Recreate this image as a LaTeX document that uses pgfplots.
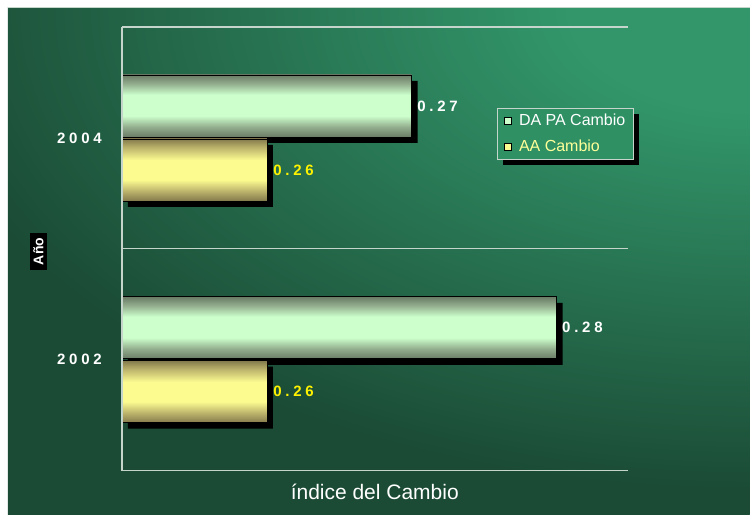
\documentclass[border=0pt]{standalone}
\usepackage{fontspec}
\setmainfont{Liberation Sans}
\newfontfamily\spacedsans[LetterSpace=25]{Liberation Sans}
\usepackage{pgfplots}
\pgfplotsset{compat=1.18}
\usetikzlibrary{shadows}
\definecolor{bgdark}{HTML}{1B4B35}
\definecolor{bglight}{HTML}{32966A}
\definecolor{gridcol}{HTML}{C5D5CB}
\definecolor{gdark}{HTML}{6A7B66}
\definecolor{gmid}{HTML}{92AD8D}
\definecolor{glight}{HTML}{CCFFCC}
\definecolor{ydark}{HTML}{837A4C}
\definecolor{ymid}{HTML}{BDB46C}
\definecolor{ylight}{HTML}{FBFB90}
\definecolor{ytext}{HTML}{FFFF99}
\definecolor{legfill}{HTML}{2F9064}
% a path maps onto the middle 50bp (25bp..75bp) of a shading
\pgfdeclareverticalshading{gbar}{100bp}{color(0bp)=(gdark); color(25bp)=(gdark); color(33bp)=(gmid); color(42bp)=(glight); color(59bp)=(glight); color(68bp)=(gmid); color(75bp)=(gdark); color(100bp)=(gdark)}
\pgfdeclareverticalshading{yelbar}{100bp}{color(0bp)=(ydark); color(25bp)=(ydark); color(33bp)=(ymid); color(42bp)=(ylight); color(58bp)=(ylight); color(68bp)=(ymid); color(75bp)=(ydark); color(100bp)=(ydark)}
\pgfdeclareradialshading{bgshade}{\pgfpoint{0bp}{0bp}}{color(0bp)=(bglight); color(3bp)=(bglight); color(14bp)=(bgdark); color(50bp)=(bgdark)}
\newcommand{\valfont}{\spacedsans\bfseries\fontsize{15bp}{18bp}\selectfont}
\newcommand{\legmark}[1]{\pgfpathrectangle{\pgfpoint{0bp}{-6bp}}{\pgfpoint{14bp}{12bp}}\pgfusepath{use as bounding box}%
  \pgfsetfillcolor{#1}\pgfsetstrokecolor{black}\pgfsetlinewidth{1.5bp}%
  \pgfpathrectangle{\pgfpoint{1.5bp}{-3.5bp}}{\pgfpoint{7bp}{7bp}}\pgfusepath{fill,stroke}}
\begin{document}
\begin{tikzpicture}[x=1bp,y=1bp]
\fill[white] (0,0) rectangle (750,515);
\begin{scope}
\clip (8,0) rectangle (750,507);
\fill[bgdark] (8,0) rectangle (750,507);
\shade[shading=bgshade] (750,507) ellipse [x radius=1500, y radius=860];
\end{scope}
\draw[gridcol, line width=1bp] (8,507.5) -- (750,507.5);
\begin{axis}[
  at={(122bp,44bp)}, anchor=south west, scale only axis,
  width=506bp, height=444bp,
  xbar, bar width=62bp,
  xmin=0.25, xmax=0.2849, ymin=-0.5, ymax=1.5,
  xtick=\empty, ytick={0,1}, yticklabels={2002,2004},
  yticklabel style={font=\valfont, text=white, inner sep=0pt, xshift=-20bp},
  major tick length=0pt,
  axis line style={draw=none},
  extra y ticks={-0.5,0.5,1.5}, extra y tick labels={},
  extra y tick style={grid=major, major grid style={draw=gridcol, line width=1.2bp}},
  xlabel={índice del Cambio},
  xlabel style={at={(rel axis cs:0.5,-0.047)}, anchor=center, font=\fontsize{21bp}{25bp}\selectfont, text=white},
  ylabel={Año},
  ylabel style={at={(rel axis cs:-0.165,0.494)}, anchor=center, fill=black, text=white, font=\bfseries\fontsize{14bp}{16bp}\selectfont, inner xsep=5bp, inner ysep=3bp},
  legend style={at={(rel axis cs:0.741,0.8176)}, anchor=north west, draw=gridcol, line width=0.8bp, fill=legfill, text=white, font=\fontsize{16bp}{19bp}\selectfont, drop shadow={shadow xshift=6bp, shadow yshift=-6bp, fill=black, opacity=1}, inner xsep=6bp, inner ysep=4bp, row sep=9bp},
  legend cell align=left,
  after end axis/.code={\draw[gridcol, line width=1.2bp] (rel axis cs:0,0) -- (rel axis cs:0,1);},
  gbarstyle/.style={shade, shading=gbar, draw=black, line width=0.6bp, bar shift=32bp,
    point meta=explicit symbolic, nodes near coords,
    every node near coord/.append style={text=white, font=\valfont, anchor=west, xshift=2bp},
    legend image code/.code={\legmark{glight}}},
  ybarstyle/.style={shade, shading=yelbar, draw=black, line width=0.6bp, bar shift=-32bp,
    point meta=explicit symbolic, nodes near coords,
    every node near coord/.append style={text=yellow, font=\valfont, anchor=west, xshift=3bp},
    legend image code/.code={\legmark{ylight}}},
]
% shadows
\addplot[forget plot, fill=black, draw=none, bar shift=32bp, xshift=6bp, yshift=-6bp] coordinates {(0.28,0) (0.27,1)};
\addplot[forget plot, fill=black, draw=none, bar shift=-32bp, xshift=6bp, yshift=-6bp] coordinates {(0.26,0) (0.26,1)};
% DA PA Cambio
\addplot[gbarstyle, forget plot] coordinates {(0.28,0) [0.28]};
\addplot[gbarstyle] coordinates {(0.27,1) [0.27]};
\addlegendentry{DA PA Cambio}
% AA Cambio
\addplot[ybarstyle, forget plot] coordinates {(0.26,0) [0.26]};
\addplot[ybarstyle] coordinates {(0.26,1) [0.26]};
\addlegendentry{\color{ytext}AA Cambio}
\end{axis}
\end{tikzpicture}
\end{document}
